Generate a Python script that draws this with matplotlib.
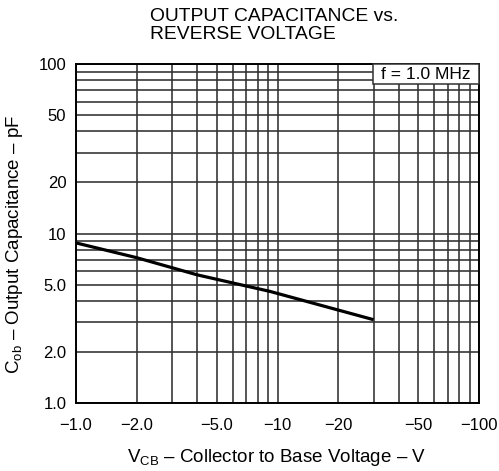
import matplotlib
matplotlib.use("Agg")
import matplotlib.pyplot as plt
from matplotlib.patches import Rectangle
from matplotlib.ticker import FixedLocator, NullFormatter, LogLocator

# ---- data ----
vcb_mag = [1.0, 2.0, 4.0, 9.2, 30.0]          # |V_CB| in volts (plotted as negative labels)
cob_pf = [8.8, 7.2, 5.7, 4.55, 3.1]           # output capacitance, pF

x_ticks = [1, 2, 5, 10, 20, 50, 100]
x_tick_labels = ["\u22121.0", "\u22122.0", "\u22125.0", "\u221210", "\u221220", "\u221250", "\u2212100"]
y_ticks = [1, 2, 5, 10, 20, 50, 100]
y_tick_labels = ["1.0", "2.0", "5.0", "10", "20", "50", "100"]

title_text = "OUTPUT CAPACITANCE vs.\nREVERSE VOLTAGE"
xlabel_text = "V$_{\\mathrm{CB}}$ \u2013 Collector to Base Voltage \u2013 V"
ylabel_text = "C$_{\\mathrm{ob}}$ \u2013 Output Capacitance \u2013 pF"
note_text = "f = 1.0 MHz"

plt.rcParams['font.family'] = ['Liberation Sans', 'DejaVu Sans']
plt.rcParams['mathtext.fontset'] = 'custom'
plt.rcParams['mathtext.rm'] = 'Liberation Sans'
plt.rcParams['mathtext.it'] = 'Liberation Sans:italic'

W, H = 499, 471
fig = plt.figure(figsize=(W / 100, H / 100), dpi=100)
ax = fig.add_axes([76 / W, 1 - 403 / H, (479 - 76) / W, (403 - 64) / H])

ax.set_xscale('log')
ax.set_yscale('log')
ax.set_xlim(1, 100)
ax.set_ylim(1, 100)

ax.xaxis.set_major_locator(FixedLocator(x_ticks))
ax.xaxis.set_minor_locator(LogLocator(base=10, subs=range(1, 10), numticks=20))
ax.yaxis.set_major_locator(FixedLocator(y_ticks))
ax.yaxis.set_minor_locator(LogLocator(base=10, subs=range(1, 10), numticks=20))
ax.set_xticklabels(x_tick_labels)
ax.set_yticklabels(y_tick_labels)
ax.xaxis.set_minor_formatter(NullFormatter())
ax.yaxis.set_minor_formatter(NullFormatter())

ax.tick_params(which='both', length=0)
ax.tick_params(axis='x', which='major', pad=11, labelsize=12)
ax.tick_params(axis='y', which='major', pad=7, labelsize=12)

ax.grid(True, which='both', color='#303030', linewidth=1.15)
ax.set_axisbelow(True)
for s in ax.spines.values():
    s.set_linewidth(1.4)
    s.set_color('black')

ax.plot(vcb_mag, cob_pf, color='black', linewidth=2.3, solid_capstyle='butt', zorder=3)

# note box
ax.add_patch(Rectangle((0.737, 0.94), 0.263, 0.06, transform=ax.transAxes,
                       facecolor='white', edgecolor='#303030', linewidth=1.1,
                       zorder=4, clip_on=False))
ax.text(0.868, 0.969, note_text, transform=ax.transAxes, ha='center', va='center',
        fontsize=12.5, zorder=5)

fig.text(150 / W, 1 - 8 / H, title_text, ha='left', va='top', fontsize=13.9,
         linespacing=1.05)
fig.text(277 / W, 1 - 457 / H, xlabel_text, ha='center', va='center', fontsize=13.5)
fig.text(15 / W, 1 - 244 / H, ylabel_text, ha='center', va='center', fontsize=13.5,
         rotation=90)

fig.savefig("out.png", dpi=100)
